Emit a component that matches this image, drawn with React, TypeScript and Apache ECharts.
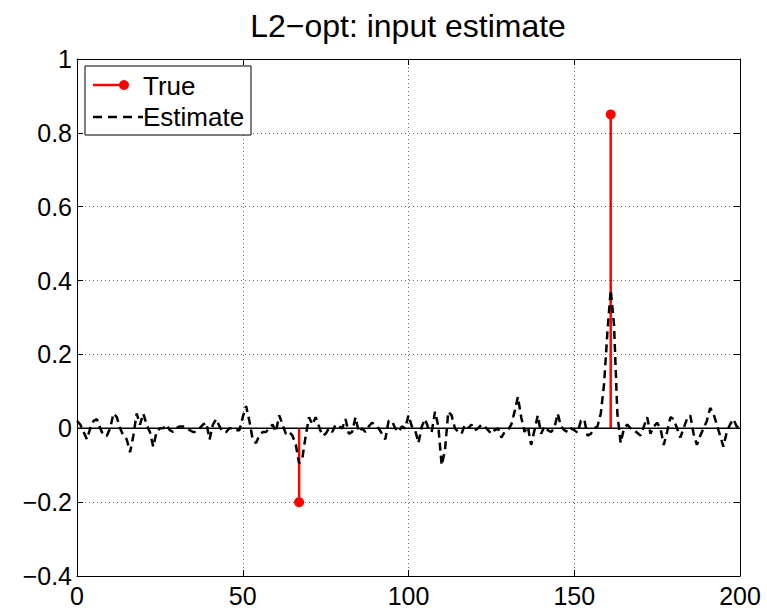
import React, { useEffect, useRef } from "react";
import * as echarts from "echarts";

const titleText = "L2\u2212opt: input estimate";
const legendLabels = ["True", "Estimate"];

// sparse true input (index, value)
const trueIdx = [67, 161];
const trueVal = [-0.2, 0.85];

// estimated input, index 0..200
const estimate = [
  0.02, 0.01, -0.01, -0.03, 0, 0.02, 0.025, 0, -0.02, -0.02,
  0, 0.04, 0.03, 0, -0.02, -0.03, -0.065, -0.02, 0.04, 0.01,
  0.04, 0.01, -0.01, -0.05, -0.01, 0, 0, 0.01, -0.005, -0.01,
  0, 0.005, 0.005, 0, -0.005, -0.01, -0.01, 0, 0.01, 0.015,
  -0.03, 0.01, 0.025, 0.005, -0.01, -0.01, 0, 0, -0.005, -0.005,
  0.03, 0.06, 0.02, -0.03, -0.04, -0.02, -0.01, -0.01, 0, 0.01,
  -0.01, 0.035, 0.01, -0.015, -0.01, -0.02, -0.045, -0.095, -0.08, -0.02,
  0.03, 0.01, 0.03, 0.005, -0.02, -0.015, 0, -0.01, 0.01, 0.005,
  0, 0.025, -0.015, -0.01, 0.03, -0.01, 0, -0.01, 0.005, 0.015,
  0.01, 0, -0.015, -0.03, 0.02, 0.02, 0, -0.01, 0.005, 0,
  0.035, 0.005, -0.005, -0.04, 0.005, 0.025, 0, -0.01, 0.045, 0.005,
  -0.1, -0.06, 0.045, 0.035, 0, -0.01, -0.015, 0.01, 0, 0.01,
  -0.005, 0, 0.01, 0.005, -0.005, -0.015, -0.005, 0, -0.025, -0.01,
  -0.005, 0.01, 0.045, 0.085, 0.03, -0.01, 0.005, -0.045, -0.005, 0.035,
  -0.015, 0.005, -0.005, -0.01, 0, 0.04, 0.005, -0.005, -0.01, 0,
  -0.005, -0.012, 0.02, 0.025, -0.02, -0.015, 0, 0.005, 0.04, 0.12,
  0.26, 0.375, 0.28, 0.04, -0.04, 0, 0.01, 0, -0.005, -0.012,
  -0.02, 0.005, 0.03, -0.015, 0.005, 0.015, 0, -0.045, -0.01, 0.03,
  0.025, 0, -0.025, 0, 0.025, 0.035, -0.015, -0.045, -0.02, 0,
  0.02, 0.055, 0.04, 0.01, -0.02, -0.05, -0.01, 0.01, 0.025, 0.005,
  0,
];

const xMin = 0;
const xMax = 200;
const xStep = 50;
const yMin = -0.4;
const yMax = 1;
const yStep = 0.2;

const FONT = "'Liberation Sans', Arial, Helvetica, sans-serif";

function fmtY(v: number): string {
  const r = Math.round(v * 10) / 10;
  if (r === 0) return "0";
  return (r < 0 ? "\u2212" : "") + String(Math.abs(r));
}

export default function App() {
  const ref = useRef<HTMLDivElement>(null);

  useEffect(() => {
    if (!ref.current) return;
    const chart = echarts.init(ref.current, undefined, { renderer: "svg" });

    const gridLine = { show: true, lineStyle: { color: "#6a6a6a", type: [1, 3] as any, width: 1 } };
    const axLine = { show: true, onZero: false, lineStyle: { color: "#000", width: 1 } };
    const tick = { show: true, inside: true, length: 6, lineStyle: { color: "#000", width: 1 } };

    const option: any = {
      animation: false,
      backgroundColor: "#ffffff",
      grid: { left: 77, right: 27, top: 59, bottom: 31, containLabel: false },
      xAxis: [
        {
          type: "value",
          min: xMin,
          max: xMax,
          interval: xStep,
          position: "bottom",
          axisLine: axLine,
          axisTick: tick,
          axisLabel: { show: true, color: "#000", fontSize: 25, fontFamily: FONT, margin: 7 },
          splitLine: gridLine,
        },
        {
          type: "value",
          min: xMin,
          max: xMax,
          interval: xStep,
          position: "top",
          axisLine: axLine,
          axisTick: tick,
          axisLabel: { show: false },
          splitLine: { show: false },
        },
      ],
      yAxis: [
        {
          type: "value",
          min: yMin,
          max: yMax,
          interval: yStep,
          position: "left",
          axisLine: axLine,
          axisTick: tick,
          axisLabel: { show: true, color: "#000", fontSize: 25, fontFamily: FONT, margin: 5, formatter: fmtY },
          splitLine: gridLine,
        },
        {
          type: "value",
          min: yMin,
          max: yMax,
          interval: yStep,
          position: "right",
          axisLine: axLine,
          axisTick: tick,
          axisLabel: { show: false },
          splitLine: { show: false },
        },
      ],
      series: [
        {
          name: legendLabels[0],
          type: "custom",
          xAxisIndex: 0,
          yAxisIndex: 0,
          data: trueIdx.map((x, i) => [x, trueVal[i]]),
          renderItem: (params: any, api: any) => {
            const x = api.value(0);
            const y = api.value(1);
            const p0 = api.coord([x, 0]);
            const p1 = api.coord([x, y]);
            return {
              type: "group",
              children: [
                {
                  type: "line",
                  shape: { x1: p0[0], y1: p0[1], x2: p1[0], y2: p1[1] },
                  style: { stroke: "#ff0000", lineWidth: 2.5 },
                },
                {
                  type: "circle",
                  shape: { cx: p1[0], cy: p1[1], r: 5 },
                  style: { fill: "#ff0000" },
                },
              ],
            };
          },
        },
        {
          name: "baseline",
          type: "line",
          data: [
            [xMin, 0],
            [xMax, 0],
          ],
          symbol: "none",
          lineStyle: { color: "#000", width: 1.5 },
          silent: true,
        },
        {
          name: legendLabels[1],
          type: "line",
          data: estimate.map((v, i) => [i, v]),
          symbol: "none",
          lineStyle: { color: "#000", width: 2.5, type: [8, 5] },
        },
      ],
      graphic: [
        {
          type: "text",
          x: 408,
          y: 26,
          style: {
            text: titleText,
            font: `32px ${FONT}`,
            fill: "#000",
            textAlign: "center",
            textVerticalAlign: "middle",
          },
        },
        {
          type: "rect",
          shape: { x: 85, y: 66, width: 166, height: 69 },
          style: { fill: "#fff", stroke: "#000", lineWidth: 1 },
          z: 100,
        },
        {
          type: "line",
          shape: { x1: 93, y1: 85, x2: 125, y2: 85 },
          style: { stroke: "#ff0000", lineWidth: 2.5 },
          z: 101,
        },
        {
          type: "circle",
          shape: { cx: 124, cy: 85, r: 5 },
          style: { fill: "#ff0000" },
          z: 101,
        },
        {
          type: "text",
          x: 143,
          y: 86,
          style: {
            text: legendLabels[0],
            font: `26px ${FONT}`,
            fill: "#000",
            textAlign: "left",
            textVerticalAlign: "middle",
          },
          z: 101,
        },
        {
          type: "line",
          shape: { x1: 93, y1: 117, x2: 143, y2: 117 },
          style: { stroke: "#000", lineWidth: 2.5, lineDash: [9, 6] },
          z: 101,
        },
        {
          type: "text",
          x: 143,
          y: 117,
          style: {
            text: legendLabels[1],
            font: `26px ${FONT}`,
            fill: "#000",
            textAlign: "left",
            textVerticalAlign: "middle",
          },
          z: 101,
        },
      ],
    };

    chart.setOption(option);
    return () => chart.dispose();
  }, []);

  return (
    <div
      ref={ref}
      style={{ position: "fixed", left: 0, top: 0, width: 767, height: 608, background: "#fff" }}
    />
  );
}
